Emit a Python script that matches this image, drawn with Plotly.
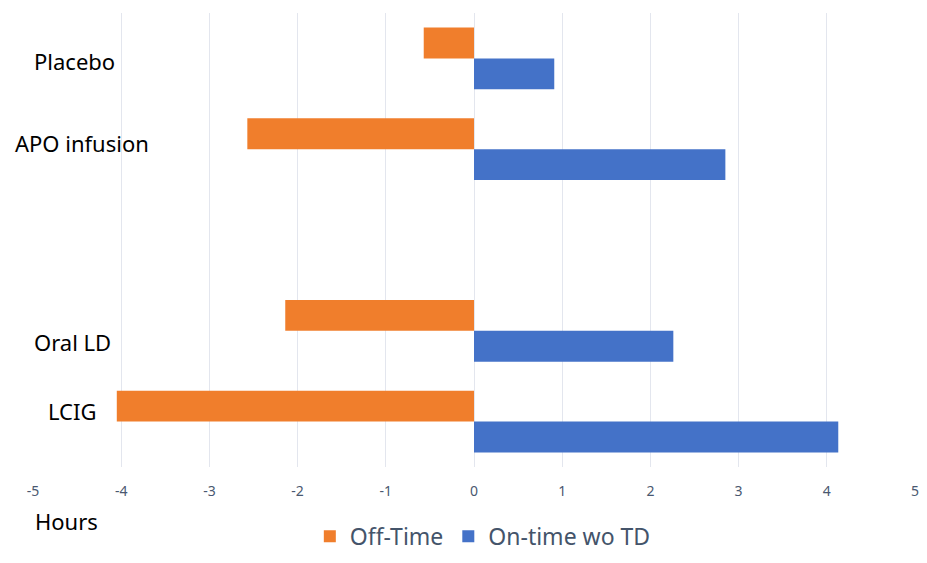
import plotly.graph_objects as go

categories = ["Placebo", "APO infusion", "", "Oral LD", "LCIG"]
off_time = [-0.57, -2.57, None, -2.14, -4.05]
on_time = [0.91, 2.85, None, 2.26, 4.13]
x_ticks = [-5, -4, -3, -2, -1, 0, 1, 2, 3, 4, 5]

pos = list(range(len(categories)))

FONT = "Noto Sans, Open Sans, sans-serif"

fig = go.Figure()
fig.add_trace(go.Bar(
    y=pos, x=off_time, orientation="h", name="Off-Time",
    marker=dict(color="#F07E2C", line=dict(width=0)),
))
fig.add_trace(go.Bar(
    y=pos, x=on_time, orientation="h", name="On-time wo TD",
    marker=dict(color="#4472C8", line=dict(width=0)),
))

# label placement (pixel-derived layout offsets)
label_shift = [-3, 6, 0, -11, 11]
label_x = [0.047, 0.055, 0, 0.045, 0.044]
for i, c in enumerate(categories):
    if not c:
        continue
    fig.add_annotation(
        x=label_x[i], xref="paper", y=pos[i], yref="y",
        text=c, showarrow=False, xanchor="center", yanchor="middle",
        yshift=label_shift[i],
        font=dict(family=FONT, size=22, color="#000000"),
    )

fig.add_annotation(
    x=0, xref="paper", y=-0.119, yref="paper",
    text="Hours", showarrow=False, xanchor="left", yanchor="middle",
    font=dict(family=FONT, size=22, color="#000000"),
)

fig.update_layout(
    width=927, height=563,
    margin=dict(l=33, r=12, t=13, b=96, autoexpand=False),
    paper_bgcolor="white", plot_bgcolor="white",
    barmode="group", bargap=0.32, bargroupgap=0,
    showlegend=True,
    legend=dict(
        orientation="h", x=0.51, xanchor="center", y=-0.2, yanchor="bottom",
        font=dict(family=FONT, size=23, color="#44546A"),
        itemwidth=30, traceorder="normal",
    ),
    xaxis=dict(
        range=[-5, 5], tickvals=x_ticks, ticktext=[str(v) for v in x_ticks],
        showgrid=True, gridcolor="#E3E6EE", gridwidth=1.3,
        zeroline=True, zerolinecolor="#E3E6EE", zerolinewidth=1.3,
        showline=False, ticks="", ticklabelstandoff=14,
        tickfont=dict(family=FONT, size=14, color="#4A5870"),
    ),
    yaxis=dict(
        range=[4.5, -0.5], showticklabels=False, showgrid=False,
        zeroline=False, showline=False, ticks="",
    ),
)

fig.write_html("out.html")
